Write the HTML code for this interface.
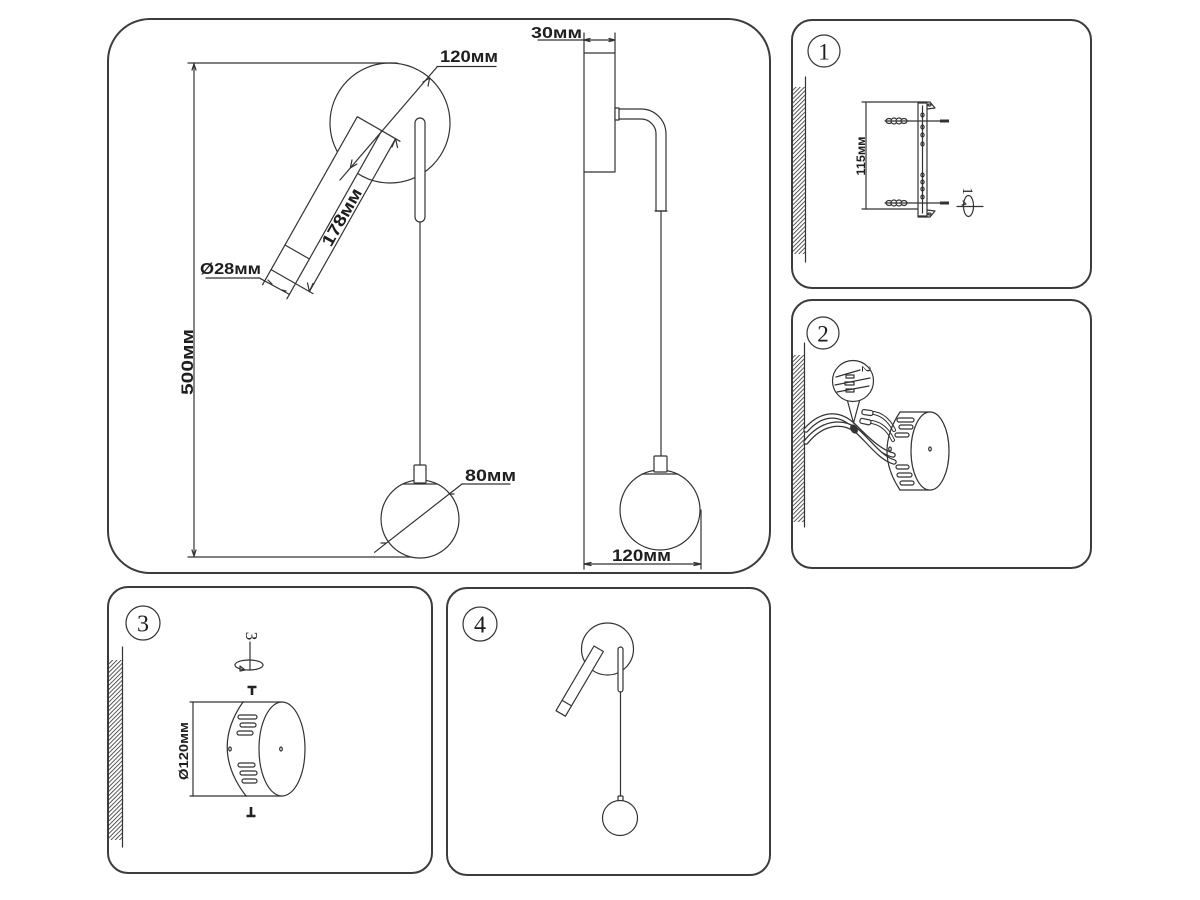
<!DOCTYPE html>
<html>
<head>
<meta charset="utf-8">
<style>
  html,body{margin:0;padding:0;background:#fff;}
  svg{display:block;}
  .b{fill:none;stroke:#3c3c3c;stroke-width:2;}
  .l{fill:none;stroke:#333;stroke-width:1.2;stroke-linecap:round;stroke-linejoin:round;}
  .w{fill:#fff;stroke:#333;stroke-width:1.2;stroke-linejoin:round;}
  .t{font-family:"Liberation Sans",sans-serif;font-weight:bold;fill:#1e1e1e;}
  .n{font-family:"Liberation Serif",serif;fill:#1e1e1e;}
</style>
</head>
<body>
<svg width="1200" height="900" viewBox="0 0 1200 900" xmlns="http://www.w3.org/2000/svg">
  <defs>
    <pattern id="h" width="3" height="3" patternUnits="userSpaceOnUse" patternTransform="rotate(45)">
      <line x1="0" y1="0" x2="0" y2="3" stroke="#2e2e2e" stroke-width="1.6"/>
    </pattern>
  </defs>
  <rect width="1200" height="900" fill="#fff"/>

  <!-- ========== MAIN PANEL ========== -->
  <rect class="b" x="108" y="19" width="662" height="554" rx="42"/>

  <!-- 500 dimension -->
  <line class="l" x1="188" y1="63" x2="397" y2="63"/>
  <line class="l" x1="194" y1="63" x2="194" y2="557"/>
  <line class="l" x1="188" y1="557" x2="414" y2="557"/>
  <path class="l" d="M192,70 L194,64 L196,70 M192,550 L194,556 L196,550"/>
  <text class="t" transform="translate(193,362) rotate(-90)" text-anchor="middle" font-size="17" textLength="66" lengthAdjust="spacingAndGlyphs">500мм</text>

  <!-- wall plate circle -->
  <circle class="l" cx="390" cy="123" r="60"/>

  <!-- arm -->
  <polygon class="w" points="357.3,116.7 381.7,130.7 295.5,283.6 271.1,269.6"/>
  <line class="l" x1="285" y1="245" x2="309.4" y2="259"/>
  <!-- Ø28 extension + dim -->
  <line class="l" x1="271.1" y1="269.6" x2="262.5" y2="284.8"/>
  <line class="l" x1="295.5" y1="283.6" x2="286.9" y2="298.8"/>
  <line class="l" x1="259" y1="277.8" x2="289.4" y2="294.4"/>
  <path class="l" d="M268,280 L272,284 M286,291 L282,290"/>
  <line class="l" x1="206" y1="278" x2="259" y2="278"/>
  <text class="t" x="200" y="274" font-size="16" textLength="61" lengthAdjust="spacingAndGlyphs">Ø28мм</text>

  <!-- 178 dimension -->
  <line class="l" x1="381.7" y1="130.7" x2="400" y2="141.3"/>
  <line class="l" x1="295.5" y1="283.6" x2="313" y2="293.6"/>
  <line class="l" x1="395.6" y1="138.7" x2="309.4" y2="291.6"/>
  <path class="l" d="M392,147 L395.6,138.7 L397.5,147.5 M313,283.5 L309.4,291.6 L307.5,283"/>
  <text class="t" transform="translate(346.8,220) rotate(-60.4)" text-anchor="middle" font-size="17" textLength="64" lengthAdjust="spacingAndGlyphs">178мм</text>

  <!-- rod + cord -->
  <rect class="w" x="415" y="118" width="10" height="104" rx="5"/>
  <line class="l" x1="420" y1="222" x2="420" y2="465"/>

  <!-- 120 diagonal -->
  <line class="l" x1="340" y1="180" x2="437" y2="67"/>
  <path class="l" d="M352,160 L350.3,168 L357,164 M428,86 L429.7,78 L423,82"/>
  <line class="l" x1="437" y1="66.5" x2="496" y2="66.5"/>
  <text class="t" x="440" y="62" font-size="17" textLength="58" lengthAdjust="spacingAndGlyphs">120мм</text>

  <!-- front ball -->
  <circle class="w" cx="420" cy="519" r="39"/>
  <rect class="w" x="414" y="465" width="12" height="18" rx="1"/>
  <line class="l" x1="403" y1="484" x2="437" y2="484" stroke-width="1.6"/>
  <!-- 80 dim -->
  <line class="l" x1="374.6" y1="552.3" x2="462" y2="484"/>
  <path class="l" d="M381,543 L386,543 M454,494 L449,494"/>
  <line class="l" x1="462" y1="484" x2="510" y2="484"/>
  <text class="t" x="465" y="481" font-size="17" textLength="51" lengthAdjust="spacingAndGlyphs">80мм</text>

  <!-- side view -->
  <rect class="w" x="584" y="53" width="31" height="119"/>
  <line class="l" x1="584" y1="172" x2="584" y2="569"/>
  <rect class="w" x="615" y="108" width="4" height="12"/>
  <path class="l" d="M619,109 L641,109 A25,25 0 0 1 666,134 L666,211 L656,211 L656,134 A15,15 0 0 0 641,119 L619,119"/>
  <line class="l" x1="655" y1="211" x2="667" y2="211" stroke-width="2"/>
  <line class="l" x1="661" y1="211" x2="661" y2="456"/>
  <circle class="w" cx="660" cy="510" r="40"/>
  <rect class="w" x="654" y="456" width="13" height="16" rx="1"/>
  <line class="l" x1="642" y1="474" x2="678" y2="474" stroke-width="1.6"/>
  <!-- 30 dim -->
  <line class="l" x1="584" y1="33" x2="584" y2="53"/>
  <line class="l" x1="615" y1="33" x2="615" y2="53"/>
  <line class="l" x1="538" y1="40" x2="615" y2="40"/>
  <path class="l" d="M590,38.5 L584,40 L590,41.5 M609,38.5 L615,40 L609,41.5"/>
  <text class="t" x="531" y="38" font-size="16" textLength="51" lengthAdjust="spacingAndGlyphs">30мм</text>
  <!-- 120 side dim -->
  <line class="l" x1="701" y1="510" x2="701" y2="569"/>
  <line class="l" x1="584" y1="564" x2="701" y2="564"/>
  <path class="l" d="M591,562.5 L584,564 L591,565.5 M694,562.5 L701,564 L694,565.5"/>
  <text class="t" x="612" y="561" font-size="17" textLength="59" lengthAdjust="spacingAndGlyphs">120мм</text>

  <!-- ========== PANEL 1 ========== -->
  <rect class="b" x="792" y="20" width="299" height="268" rx="20"/>
  <circle class="l" cx="824" cy="51" r="16"/>
  <text class="n" x="824" y="59.5" text-anchor="middle" font-size="23">1</text>
  <rect x="792.5" y="87" width="13" height="167" fill="url(#h)"/>
  <line class="l" x1="805.5" y1="77" x2="805.5" y2="262" stroke-width="1.4"/>
  <!-- 115 dim -->
  <line class="l" x1="866" y1="102" x2="866" y2="209"/>
  <line class="l" x1="862" y1="102" x2="919" y2="102"/>
  <line class="l" x1="862" y1="209" x2="919" y2="209"/>
  <text class="t" transform="translate(865,156) rotate(-90)" text-anchor="middle" font-size="11.5" textLength="39" lengthAdjust="spacingAndGlyphs">115мм</text>
  <!-- bracket -->
  <polygon class="w" points="918,102 930,102 935,108 927,109"/>
  <ellipse class="l" cx="929.5" cy="105" rx="1.5" ry="1"/>
  <polygon class="w" points="918,217 930,217 935,211 927,210"/>
  <ellipse class="l" cx="929.5" cy="214" rx="1.5" ry="1"/>
  <rect class="w" x="918" y="103" width="9" height="113"/>
  <line class="l" x1="922.5" y1="106" x2="922.5" y2="213" stroke-width="0.6"/>
  <g class="l" stroke-width="0.9">
    <ellipse cx="922.5" cy="115" rx="1.6" ry="2"/>
    <ellipse cx="922.5" cy="127" rx="1.6" ry="2"/>
    <ellipse cx="922.5" cy="135" rx="1.6" ry="2"/>
    <ellipse cx="922.5" cy="144" rx="1.6" ry="2"/>
    <ellipse cx="922.5" cy="175" rx="1.6" ry="2"/>
    <ellipse cx="922.5" cy="182" rx="1.6" ry="2"/>
    <ellipse cx="922.5" cy="189" rx="1.6" ry="2"/>
    <ellipse cx="922.5" cy="197" rx="1.6" ry="2"/>
  </g>
  <!-- screws with ribbed plugs -->
  <g>
    <line class="l" x1="885" y1="121" x2="941" y2="121"/>
    <g class="w" stroke-width="1">
      <ellipse cx="889" cy="121" rx="3" ry="2.5"/>
      <ellipse cx="894" cy="121" rx="3" ry="3"/>
      <ellipse cx="899" cy="121" rx="3" ry="3"/>
      <ellipse cx="904" cy="121" rx="3" ry="2.5"/>
    </g>
    <line class="l" x1="886" y1="121" x2="907" y2="121"/>
    <rect x="940" y="119.5" width="9" height="3" fill="#333"/>
    <line class="l" x1="885" y1="203" x2="941" y2="203"/>
    <g class="w" stroke-width="1">
      <ellipse cx="889" cy="203" rx="3" ry="2.5"/>
      <ellipse cx="894" cy="203" rx="3" ry="3"/>
      <ellipse cx="899" cy="203" rx="3" ry="3"/>
      <ellipse cx="904" cy="203" rx="3" ry="2.5"/>
    </g>
    <line class="l" x1="886" y1="203" x2="907" y2="203"/>
    <rect x="940" y="201.5" width="9" height="3" fill="#333"/>
  </g>
  <!-- rotation 1 -->
  <line class="l" x1="957" y1="206.5" x2="983" y2="206.5"/>
  <ellipse class="l" cx="968.5" cy="206" rx="5" ry="10.5"/>
  <path class="l" d="M963,201 L966,204 L962,205" />
  <text class="n" transform="translate(963,191) rotate(90)" text-anchor="middle" font-size="15">1</text>

  <!-- ========== PANEL 2 ========== -->
  <rect class="b" x="792" y="300" width="299" height="268" rx="20"/>
  <circle class="l" cx="823" cy="333" r="16"/>
  <text class="n" x="823" y="341.5" text-anchor="middle" font-size="23">2</text>
  <rect x="792.5" y="355" width="12" height="167" fill="url(#h)"/>
  <line class="l" x1="804.5" y1="343" x2="804.5" y2="527" stroke-width="1.4"/>
  <!-- wires -->
  <g fill="none" stroke-linecap="round">
    <path d="M806,430 C822,412 840,412 854,426 C866,438 880,452 893,455" stroke="#333" stroke-width="5.5"/>
    <path d="M806,430 C822,412 840,412 854,426 C866,438 880,452 893,455" stroke="#fff" stroke-width="3"/>
    <path d="M806,442 C822,422 842,420 856,430 C868,440 880,458 894,462" stroke="#333" stroke-width="5.5"/>
    <path d="M806,442 C822,422 842,420 856,430 C868,440 880,458 894,462" stroke="#fff" stroke-width="3"/>
    <path d="M874,413 C884,415 890,422 894,430" stroke="#333" stroke-width="4"/>
    <path d="M874,413 C884,415 890,422 894,430" stroke="#fff" stroke-width="2"/>
    <path d="M872,422 C882,424 888,430 893,440" stroke="#333" stroke-width="4"/>
    <path d="M872,422 C882,424 888,430 893,440" stroke="#fff" stroke-width="2"/>
  </g>
  <rect class="w" x="862" y="410" width="11" height="5" rx="2" transform="rotate(8 867 412)"/>
  <rect class="w" x="860" y="419" width="11" height="5" rx="2" transform="rotate(12 865 421)"/>
  <ellipse cx="854" cy="429" rx="3.5" ry="5" fill="#333" transform="rotate(-30 854 429)"/>
  <!-- balloon -->
  <path class="w" d="M847,399 L853.5,423 L860,399 Z"/>
  <circle class="w" cx="853" cy="381" r="20.5"/>
  <g class="l" stroke-width="0.9">
    <line x1="836" y1="377" x2="860" y2="370"/>
    <line x1="835" y1="385" x2="870" y2="378"/>
    <line x1="837" y1="392" x2="869" y2="386"/>
    <rect x="846" y="375" width="8" height="3"/>
    <rect x="845" y="382" width="9" height="3"/>
    <rect x="846" y="389" width="8" height="3"/>
  </g>
  <text class="n" transform="translate(862,369) rotate(90)" text-anchor="middle" font-size="13">2</text>
  <!-- canopy -->
  <path class="l" d="M900,412 Q874,451 900,490"/>
  <line class="l" x1="900" y1="412" x2="930" y2="412"/>
  <line class="l" x1="900" y1="490" x2="930" y2="490"/>
  <ellipse class="w" cx="930" cy="451" rx="19" ry="39"/>
  <g class="l" stroke-width="0.9">
    <rect x="897" y="418" width="17" height="4" rx="2"/>
    <rect x="899" y="425" width="14" height="4" rx="2"/>
    <rect x="895" y="433" width="14" height="4" rx="2"/>
    <rect x="896" y="465" width="13" height="4" rx="2"/>
    <rect x="897" y="473" width="15" height="4" rx="2"/>
    <rect x="900" y="481" width="14" height="4" rx="2"/>
    <ellipse cx="890" cy="449" rx="1.3" ry="2"/>
    <ellipse cx="930" cy="449" rx="1.3" ry="2"/>
  </g>

  <!-- ========== PANEL 3 ========== -->
  <rect class="b" x="108" y="587" width="324" height="286" rx="20"/>
  <circle class="l" cx="143" cy="623" r="17"/>
  <text class="n" x="143" y="631.5" text-anchor="middle" font-size="24">3</text>
  <rect x="108.5" y="660" width="14" height="180" fill="url(#h)"/>
  <line class="l" x1="122.5" y1="647" x2="122.5" y2="847" stroke-width="1.4"/>
  <!-- dim -->
  <line class="l" x1="193" y1="702" x2="193" y2="796"/>
  <line class="l" x1="190" y1="702" x2="244" y2="702"/>
  <line class="l" x1="190" y1="796" x2="247" y2="796"/>
  <text class="t" transform="translate(188,751) rotate(-90)" text-anchor="middle" font-size="13" textLength="58" lengthAdjust="spacingAndGlyphs">Ø120мм</text>
  <!-- cylinder -->
  <path class="l" d="M243,702 Q210,749 246,796"/>
  <line class="l" x1="243" y1="702" x2="282" y2="702"/>
  <line class="l" x1="246" y1="796" x2="282" y2="796"/>
  <ellipse class="w" cx="282" cy="749" rx="23" ry="47"/>
  <g class="l" stroke-width="0.9">
    <rect x="238" y="715" width="19" height="4" rx="2"/>
    <rect x="240" y="723" width="16" height="4" rx="2"/>
    <rect x="237" y="731" width="16" height="4" rx="2"/>
    <rect x="238" y="763" width="17" height="4" rx="2"/>
    <rect x="240" y="771" width="17" height="4" rx="2"/>
    <rect x="242" y="779" width="15" height="4" rx="2"/>
    <ellipse cx="230" cy="749" rx="1.3" ry="2"/>
    <ellipse cx="281" cy="749" rx="1.3" ry="2"/>
  </g>
  <!-- T marks -->
  <path d="M247.5,687 L256.5,687 M252,687 L252,695" stroke="#222" stroke-width="2.6" fill="none"/>
  <path d="M246.5,816 L255.5,816 M251,807 L251,816" stroke="#222" stroke-width="2.6" fill="none"/>
  <!-- rotation 3 -->
  <line class="l" x1="250" y1="642" x2="250" y2="670"/>
  <ellipse class="l" cx="249" cy="665" rx="14" ry="5"/>
  <path class="l" d="M240,666 L245,670 L240,671 Z"/>
  <text class="n" transform="translate(246,636) rotate(90)" text-anchor="middle" font-size="17">3</text>

  <!-- ========== PANEL 4 ========== -->
  <rect class="b" x="447" y="588" width="323" height="287" rx="20"/>
  <circle class="l" cx="480" cy="624" r="17"/>
  <text class="n" x="480" y="632.5" text-anchor="middle" font-size="24">4</text>
  <circle class="l" cx="607.5" cy="649" r="26"/>
  <polygon class="w" points="594,646 603.4,651.5 565.4,716.2 556,710.7"/>
  <line class="l" x1="562.1" y1="700.4" x2="571.5" y2="705.9"/>
  <rect class="w" x="618" y="647" width="5" height="45" rx="2.5"/>
  <line class="l" x1="620.5" y1="692" x2="620.5" y2="797"/>
  <rect class="w" x="618" y="796" width="5" height="5" rx="1"/>
  <circle class="w" cx="620" cy="818" r="17.5"/>
</svg>
</body>
</html>
